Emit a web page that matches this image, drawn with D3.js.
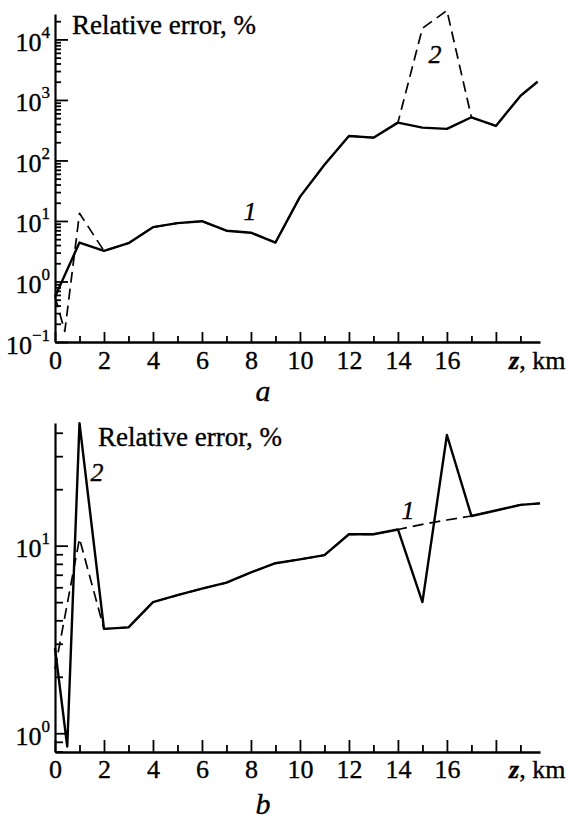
<!DOCTYPE html>
<html><head><meta charset="utf-8">
<script src="https://cdn.jsdelivr.net/npm/d3@7"></script>
<style>
body{margin:0;background:#fff}
svg{display:block}
text{font-family:"Liberation Serif","Times New Roman",serif;fill:#000;stroke:#000;stroke-width:0.35px}
</style></head><body>
<svg id="c" width="571" height="821"></svg>
<script>
// ---------- Panel a ----------
const aCurve1Z = [0,1,2,3,4,5,6,7,8,9,10,11,12,13,14,15,16,17,18,19,19.7];
const aCurve1V = [0.56,4.4,3.2,4.3,7.9,9.2,9.9,6.9,6.4,4.4,25,85,254,238,422,348,332,517,371,1165,2000];
const aCurve2Z = [0,0.4,1,2,3,4,5,6,7,8,9,10,11,12,13,14,15,16,17,18,19,19.7];
const aCurve2V = [0.56,0.15,13.4,3.2,4.3,7.9,9.2,9.9,6.9,6.4,4.4,25,85,254,238,422,15300,30000,517,371,1165,2000];
// ---------- Panel b ----------
const bCurve1Z = [0,1,2,3,4,5,6,7,8,9,10,11,12,13,14,15,16,17,18,19,19.8];
const bCurve1V = [2.2,10.9,3.6,3.67,5.0,5.45,5.9,6.35,7.2,8.06,8.45,8.9,11.5,11.5,12.2,13.0,13.7,14.4,15.4,16.5,16.8];
const bCurve2Z = [0,0.5,1,2,3,4,5,6,7,8,9,10,11,12,13,14,15,16,17,18,19,19.8];
const bCurve2V = [2.84,0.85,45,3.6,3.67,5.0,5.45,5.9,6.35,7.2,8.06,8.45,8.9,11.5,11.5,12.2,5.0,38.9,14.4,15.4,16.5,16.8];

const xMajorTicks = [0,2,4,6,8,10,12,14,16,18];
const xMinorTicks = [1,3,5,7,9,11,13,15,17,19];
const xLabelled = [0,2,4,6,8,10,12,14,16];
const aDecades = [0.1,1,10,100,1000,10000];
const bDecades = [1,10];
const yTitle = "Relative error, %";
const xTitleVar = "z";
const xTitleUnit = ", km";

const svg = d3.select("#c");
const supMap = {"-1":"\u22121"};

function panel(o){
  const x = d3.scaleLinear().domain([0,19.8]).range([55,540]);
  const y = d3.scaleLog().domain(o.yDomain).range([o.y0,o.y1]);
  const g = svg.append("g");

  const minor = y.ticks().filter(v => !o.decades.some(d => Math.abs(d-v)/d < 1e-6));
  g.append("g").attr("transform",`translate(55,0)`)
    .call(d3.axisLeft(y).tickValues(minor).tickSize(-o.yMinorLen).tickSizeOuter(0).tickFormat(""))
    .call(s=>s.select(".domain").remove());
  const ya = g.append("g").attr("transform",`translate(55,0)`)
    .call(d3.axisLeft(y).tickValues(o.decades).tickSize(-13).tickSizeOuter(0).tickPadding(5)
      .tickFormat(d=>String(Math.round(Math.log10(d)))));
  ya.select(".domain").attr("stroke-width",2.2);
  ya.selectAll("text").each(function(){
    const t = d3.select(this); const e = t.text(); t.text("");
    t.attr("dy",null).attr("y",11).attr("font-size",26).attr("x",-5);
    t.append("tspan").text("10");
    t.append("tspan").attr("font-size",17).attr("dy",-13).text(supMap[e]||e);
  });

  g.append("g").attr("transform",`translate(0,${o.y0})`)
    .call(d3.axisBottom(x).tickValues(xMinorTicks).tickSize(-o.xMinorLen).tickSizeOuter(0).tickFormat(""))
    .call(s=>s.select(".domain").remove());
  const xa = g.append("g").attr("transform",`translate(0,${o.y0})`)
    .call(d3.axisBottom(x).tickValues(xMajorTicks).tickSize(-o.xMajorLen).tickSizeOuter(0)
      .tickFormat(d=> xLabelled.includes(d) ? String(d) : ""));
  xa.select(".domain").attr("stroke-width",2.6);
  xa.selectAll("text").attr("dy",null).attr("y",o.xLabOff).attr("font-size",26);
  g.selectAll(".tick line").attr("stroke-width",1.8);
  g.selectAll(".tick text").attr("fill","#000");

  g.append("text").attr("x",o.titleX).attr("y",o.titleY).attr("font-size",27).text(yTitle);
  const xt = g.append("text").attr("x",509).attr("y",o.y0+o.xLabOff).attr("font-size",26);
  xt.append("tspan").attr("font-style","italic").attr("font-weight","bold").text(xTitleVar);
  xt.append("tspan").text(xTitleUnit);

  const line = d3.line().x(d=>x(d[0])).y(d=>y(d[1]));
  const dash = d3.zip(o.dashZ,o.dashV), sol = d3.zip(o.solZ,o.solV);
  g.append("path").attr("d",line(dash)).attr("fill","none").attr("stroke","#000")
    .attr("stroke-width",1.7).attr("stroke-dasharray","11,6").attr("stroke-linejoin","round");
  g.append("path").attr("d",line(sol)).attr("fill","none").attr("stroke","#000")
    .attr("stroke-width",2.4).attr("stroke-linejoin","round");

  o.labels.forEach(l=>{
    g.append("text").attr("x",l[0]).attr("y",l[1]).attr("font-size",26).attr("font-style","italic")
      .attr("text-anchor","middle").text(l[2]);
  });
  g.append("text").attr("x",263).attr("y",o.panelY).attr("font-size",30).attr("font-style","italic")
    .attr("text-anchor","middle").text(o.panel);
}

panel({yDomain:[0.1,Math.pow(10,4.42)], y0:342, y1:14, decades:aDecades, yMinorLen:6,
  xMajorLen:10, xMinorLen:6, xLabOff:27, titleX:72, titleY:34,
  solZ:aCurve1Z, solV:aCurve1V, dashZ:aCurve2Z, dashV:aCurve2V,
  labels:[[250,220,"1"],[435,63,"2"]], panel:"a", panelY:401});
panel({yDomain:[Math.pow(10,-0.1),Math.pow(10,1.654)], y0:752, y1:423, decades:bDecades, yMinorLen:8,
  xMajorLen:12, xMinorLen:7, xLabOff:26, titleX:98, titleY:446,
  solZ:bCurve2Z, solV:bCurve2V, dashZ:bCurve1Z, dashV:bCurve1V,
  labels:[[97,481,"2"],[408,519,"1"]], panel:"b", panelY:814});
</script>
</body></html>
